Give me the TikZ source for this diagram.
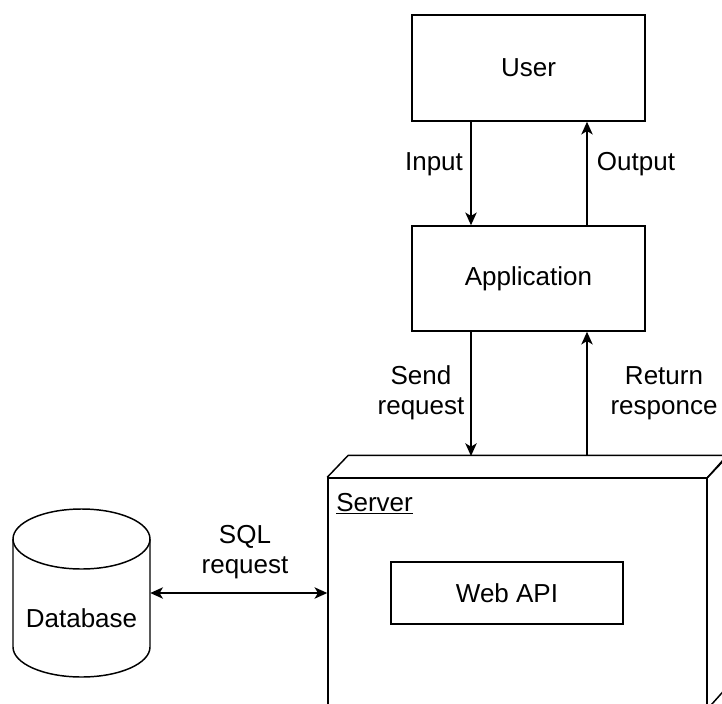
\documentclass[tikz,border=0pt]{standalone}
\usepackage{fontspec}
\setmainfont{Liberation Sans}
\usetikzlibrary{arrows.meta}
\begin{document}
\begin{tikzpicture}[x=0.75pt,y=0.75pt,
  font=\fontsize{19.5pt}{22.5pt}\selectfont,
  box/.style={draw=black,line width=1.1pt,rectangle,inner sep=0pt,align=center},
  conn/.style={draw=black,line width=1.1pt,-{Stealth[length=9.5pt,width=8.5pt,inset=2.5pt]}},
  lbl/.style={align=center,inner sep=0pt}]
\useasboundingbox (0,0) rectangle (722,-704);
\begin{scope}
\clip (0,0) rectangle (722,-704);
% nodes
\node[box,minimum width={233*0.75pt},minimum height={106*0.75pt}] (user) at (528.5,-68) {User};
\node[box,minimum width={233*0.75pt},minimum height={105*0.75pt}] (app) at (528.5,-278.5) {Application};
\node[box,minimum width={379*0.75pt},minimum height={230*0.75pt}] (server) at (517.5,-593) {};
\draw[line width=1.1pt,line join=miter] (server.north west) -- ++(21,22) -- ++(379,0) -- (server.north east);
\draw[line width=1.1pt,line join=miter] (server.north east) -- ++(21,22) -- ++(0,-230) -- (server.south east);
\node[box,minimum width={232*0.75pt},minimum height={62*0.75pt}] (api) at (507,-593) {Web API};
\node[anchor=base west,inner sep=0pt] (slabel) at (336,-511) {\underline{Server}};
% database
\node[inner sep=0pt,minimum width={137*0.75pt},minimum height={168*0.75pt}] (db) at (81.5,-593) {};
\node[lbl] (dbtext) at (81.5,-618) {Database};
\draw[line width=1.1pt] (81.5,-539) ellipse [x radius=68.5,y radius=30];
\draw[line width=1.1pt] (13,-539) -- (13,-647) arc[start angle=180,end angle=360,x radius=68.5,y radius=30] -- (150,-539);
% connector endpoints on server top face
\coordinate (sin) at (471,-456);
\coordinate (sout) at (587,-456);
% connectors
\draw[conn] (user.south -| sin) -- (app.north -| sin);
\draw[conn] (app.north -| sout) -- (user.south -| sout);
\draw[conn] (app.south -| sin) -- (sin);
\draw[conn] (sout) -- (app.south -| sout);
\draw[line width=1.1pt,{Stealth[length=9.5pt,width=8.5pt,inset=2.5pt]}-{Stealth[length=9.5pt,width=8.5pt,inset=2.5pt]}] (db.east) -- (server.west);
% labels
\node[lbl] (linput) at (434,-164) {Input};
\node[lbl] (loutput) at (636,-164) {Output};
\node[lbl] (lsend) at (421,-393) {Send\\request};
\node[lbl] (lret) at (664,-393) {Return\\responce};
\node[lbl] (lsql) at (245,-552) {SQL\\request};
\end{scope}
\end{tikzpicture}
\end{document}
